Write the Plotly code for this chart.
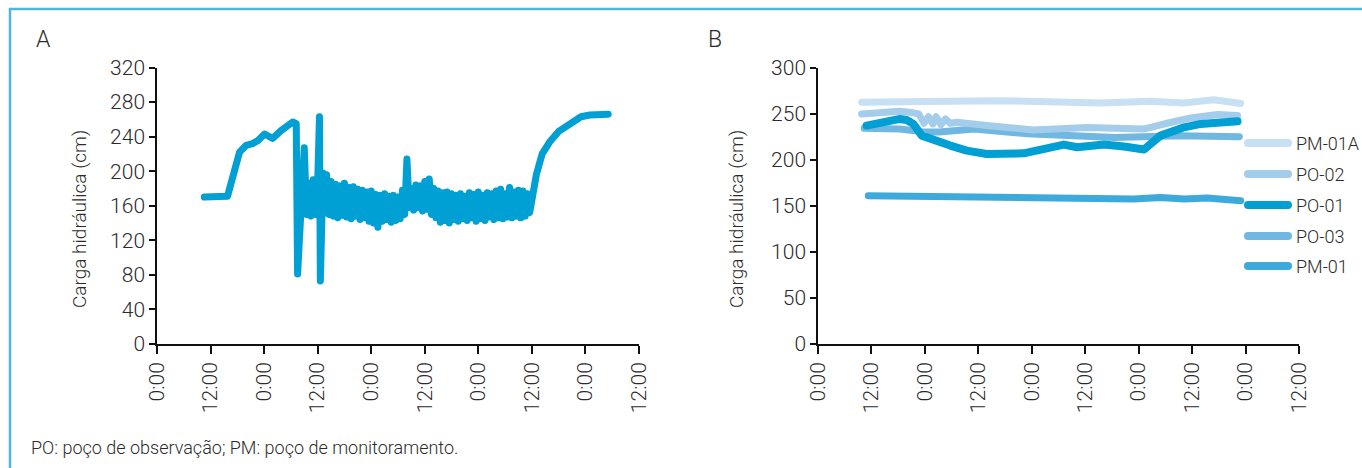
import plotly.graph_objects as go

W, H = 1362, 468

# ---------- Painel A: carga hidráulica (cm) ao longo do ensaio ----------
# subida inicial e os dois picos de abertura/fechamento
horas_a_ini = [10.6, 13.0, 15.8, 18.5, 20.0, 21.4, 22.5, 24.1, 25.9, 27.8, 29.0, 30.4, 31.2,
               31.5, 33.0, 33.5, 34.0, 34.5, 35.0, 35.5, 36.0, 36.4, 36.6, 37.2, 37.6]
carga_a_ini = [170, 170, 171, 222, 230, 232, 235, 243, 238, 247, 252, 257, 255,
               81, 227, 150, 186, 148, 190, 150, 186, 263, 73, 198, 152]

# leituras a cada meia hora durante o bombeamento (38:00 a 83:00)
horas_a_osc = [38.0 + 0.5 * i for i in range(91)]
carga_a_osc = [196, 150, 188, 148, 185, 146, 183, 149, 186, 147,
               181, 145, 182, 148, 179, 144, 178, 146, 176, 142,
               177, 140, 173, 135, 172, 142, 174, 144, 171, 141,
               172, 143, 170, 145, 178, 150, 214, 158, 180, 155,
               184, 158, 183, 154, 188, 156, 191, 150, 180, 146,
               177, 141, 175, 143, 176, 140, 174, 144, 172, 142,
               174, 145, 171, 143, 175, 146, 173, 142, 176, 145,
               172, 143, 175, 147, 174, 144, 177, 146, 179, 145,
               174, 147, 181, 146, 176, 148, 178, 146, 177, 148,
               174]

# recuperação após o fim do bombeamento
horas_a_rec = [83.5, 84.2, 85.0, 86.3, 88.0, 90.0, 92.1, 95.0, 97.0, 101.1]
carga_a_rec = [152, 175, 196, 220, 234, 246, 254, 263, 265, 266]

horas_a = horas_a_ini + horas_a_osc + horas_a_rec
carga_a = carga_a_ini + carga_a_osc + carga_a_rec

# ---------- Painel B: poços de observação e monitoramento ----------
horas_pm01a = [9.8, 18.4, 29.7, 40.9, 52.2, 63.4, 74.7, 82.1, 88.8, 91.5, 94.9]
carga_pm01a = [262.3, 263.5, 263.5, 264.0, 263.4, 261.5, 263.3, 261.5, 265.0, 264.0, 261.0]

horas_po02 = [9.8, 14.6, 18.4, 21.4, 22.6, 23.8, 24.8, 25.8, 26.5, 27.6, 28.6, 29.7, 31.2,
              37.9, 48.4, 60.4, 67.2, 73.1, 78.4, 83.7, 89.7, 94.2]
carga_po02 = [249.6, 250.8, 252.5, 250.8, 249.7, 239.5, 246.7, 238.8, 246.7, 238.0, 244.2, 239.5, 240.6,
              237.0, 232.2, 235.0, 235.0, 233.2, 239.5, 245.3, 249.0, 247.8]

horas_po01 = [10.9, 18.4, 19.9, 21.4, 23.3, 25.9, 29.7, 33.4, 37.9, 46.2, 48.4, 52.9, 55.2,
              58.2, 64.2, 68.7, 73.2, 76.9, 82.2, 85.9, 94.2]
carga_po01 = [237.0, 244.2, 243.1, 238.8, 226.1, 222.5, 215.3, 209.8, 206.2, 206.9, 209.1, 215.3, 216.4,
              213.5, 216.4, 214.3, 211.0, 226.1, 235.1, 238.8, 241.6]

horas_po03 = [10.4, 18.4, 23.2, 27.2, 35.0, 47.0, 66.6, 73.4, 81.3, 94.6]
carga_po03 = [234.0, 233.2, 230.4, 230.0, 233.3, 228.0, 224.0, 225.0, 226.0, 225.0]

horas_pm01 = [11.3, 33.4, 55.9, 70.9, 76.9, 82.2, 87.4, 94.9]
carga_pm01 = [160.9, 159.1, 157.2, 157.2, 159.0, 157.2, 158.3, 155.4]

series_b = [
    # nome, horas, carga, cor, espessura, posição na legenda
    ("PM-01", horas_pm01, carga_pm01, "#3eaadc", 7, 5),
    ("PO-03", horas_po03, carga_po03, "#70b7e2", 7, 4),
    ("PO-02", horas_po02, carga_po02, "#a3cdea", 7, 2),
    ("PM-01A", horas_pm01a, carga_pm01a, "#c8e0f3", 7, 1),
    ("PO-01", horas_po01, carga_po01, "#009fd4", 8, 3),
]

tick_vals = [0, 12, 24, 36, 48, 60, 72, 84, 96, 108]
tick_text = ["0:00", "12:00"] * 5

FONT = "Roboto"
TXT = "#2b2b2b"

fig = go.Figure()

fig.add_trace(go.Scatter(x=horas_a, y=carga_a, mode="lines",
                         line=dict(color="#009fd4", width=7),
                         xaxis="x", yaxis="y", showlegend=False, hoverinfo="skip"))

for nome, hx, cy, cor, lw, _ in series_b:
    fig.add_trace(go.Scatter(x=hx, y=cy, mode="lines", name=nome,
                             line=dict(color=cor, width=lw),
                             xaxis="x2", yaxis="y2", showlegend=False, hoverinfo="skip"))


def px(x):
    return x / W


def py(y):
    return 1 - y / H


axis_common = dict(showline=True, linecolor="#111111", linewidth=1.5, ticks="outside",
                   tickcolor="#111111", tickwidth=1.5, showgrid=False, zeroline=False,
                   automargin=False,
                   tickfont=dict(family=FONT, size=21, color=TXT, weight=300))

fig.update_layout(
    width=W, height=H,
    margin=dict(l=0, r=0, t=0, b=0, pad=0, autoexpand=False),
    paper_bgcolor="white", plot_bgcolor="white",
    xaxis=dict(domain=[px(157), px(639)], range=[0, 108], tickvals=tick_vals, ticktext=tick_text,
               tickangle=-90, ticklen=8, anchor="y", **axis_common),
    yaxis=dict(domain=[py(344), py(67.5)], range=[0, 320], tickvals=list(range(0, 321, 40)),
               ticklen=6, anchor="x", **axis_common),
    xaxis2=dict(domain=[px(818), px(1299)], range=[0, 108], tickvals=tick_vals, ticktext=tick_text,
                tickangle=-90, ticklen=8, anchor="y2", **axis_common),
    yaxis2=dict(domain=[py(344), py(67.5)], range=[0, 300], tickvals=list(range(0, 301, 50)),
                ticklen=6, anchor="x2", **axis_common),
    showlegend=False,
)

annotations = [
    dict(text="A", x=px(34), y=py(39), xanchor="left", yanchor="middle",
         font=dict(family=FONT, size=23, color=TXT, weight=300)),
    dict(text="B", x=px(706), y=py(39), xanchor="left", yanchor="middle",
         font=dict(family=FONT, size=23, color=TXT, weight=300)),
    dict(text="Carga hidráulica (cm)", x=px(79), y=py(219), textangle=-90,
         xanchor="center", yanchor="middle", font=dict(family=FONT, size=19, color=TXT, weight=300)),
    dict(text="Carga hidráulica (cm)", x=px(736), y=py(219), textangle=-90,
         xanchor="center", yanchor="middle", font=dict(family=FONT, size=19, color=TXT, weight=300)),
    dict(text="PO: poço de observação; PM: poço de monitoramento.", x=px(29), y=py(447),
         xanchor="left", yanchor="middle", font=dict(family=FONT, size=18, color=TXT, weight=300)),
]

shapes = [
    dict(type="line", xref="paper", yref="paper", x0=px(10), x1=1.0, y0=py(9), y1=py(9),
         line=dict(color="#4db6e2", width=2.5)),
    dict(type="line", xref="paper", yref="paper", x0=px(10), x1=px(10), y0=py(9), y1=0,
         line=dict(color="#4db6e2", width=2.5)),
]

# legenda do painel B
leg_y = {1: 143, 2: 174, 3: 205, 4: 236, 5: 266}
for nome, _, _, cor, _, pos in series_b:
    yy = leg_y[pos]
    shapes.append(dict(type="line", xref="paper", yref="paper", x0=px(1248), x1=px(1288),
                       y0=py(yy), y1=py(yy), line=dict(color=cor, width=8)))
    annotations.append(dict(text=nome, x=px(1294), y=py(yy), xanchor="left", yanchor="middle",
                            font=dict(family=FONT, size=18, color=TXT, weight=300)))

fig.update_layout(annotations=[dict(a, showarrow=False, xref="paper", yref="paper") for a in annotations],
                  shapes=shapes)

round_caps = """
var s = document.createElement('style');
s.textContent = '.js-line, .shapelayer path { stroke-linecap: round; stroke-linejoin: round; }';
document.head.appendChild(s);
"""
fig.write_html("out.html", post_script=round_caps)
